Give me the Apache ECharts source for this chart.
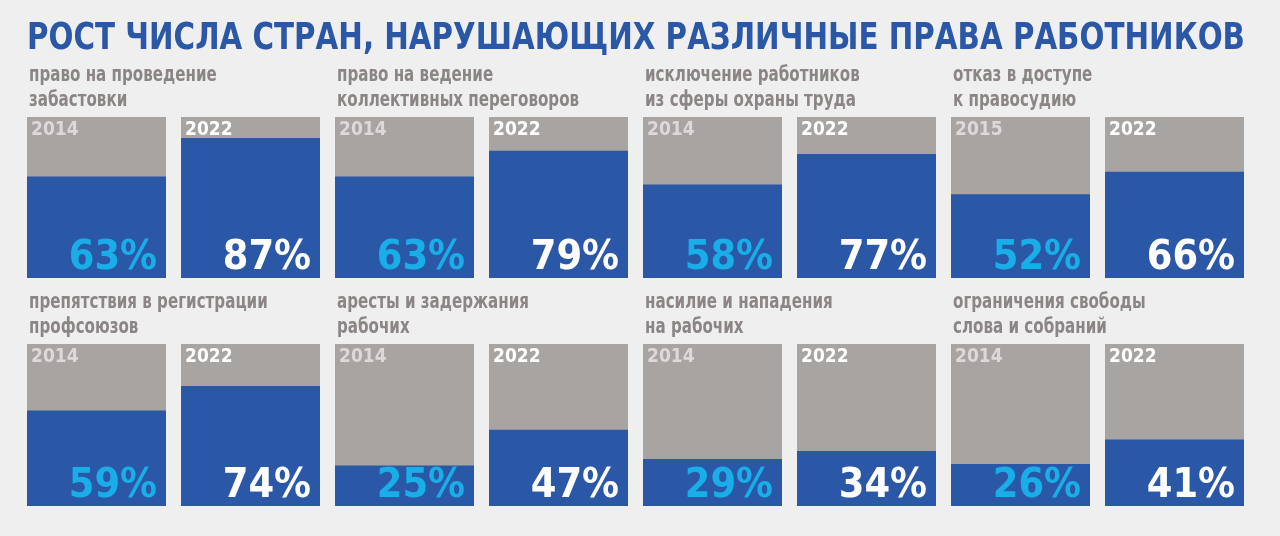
<!DOCTYPE html>
<html>
<head>
<meta charset="utf-8">
<script src="https://cdn.jsdelivr.net/npm/echarts@6/dist/echarts.min.js"></script>
<style>
  html, body { margin: 0; padding: 0; background: #efefef; }
  #main { width: 1280px; height: 536px; }
</style>
</head>
<body>
<div id="main"></div>
<script>
// данные
var titleText = 'РОСТ ЧИСЛА СТРАН, НАРУШАЮЩИХ РАЗЛИЧНЫЕ ПРАВА РАБОТНИКОВ';
var topicsRow1 = [
  'право на проведение\nзабастовки',
  'право на ведение\nколлективных переговоров',
  'исключение работников\nиз сферы охраны труда',
  'отказ в доступе\nк правосудию'
];
var topicsRow2 = [
  'препятствия в регистрации\nпрофсоюзов',
  'аресты и задержания\nрабочих',
  'насилие и нападения\nна рабочих',
  'ограничения свободы\nслова и собраний'
];
var yearsRow1 = ['2014', '2022', '2014', '2022', '2014', '2022', '2015', '2022'];
var yearsRow2 = ['2014', '2022', '2014', '2022', '2014', '2022', '2014', '2022'];
var valuesRow1 = [63, 87, 63, 79, 58, 77, 52, 66];
var valuesRow2 = [59, 74, 25, 47, 29, 34, 26, 41];
var scaleMax = 100;

var FAMILY = '"DejaVu Sans Condensed", "DejaVu Sans", sans-serif';
var BLUE = '#2a58a7';
var GREY = '#a8a4a2';
var CYAN = '#1aaee9';

// ширина текста, чтобы сжать заголовок как в узком шрифте
function textWidth(str, font) {
  var ctx = document.createElement('canvas').getContext('2d');
  ctx.font = font;
  return ctx.measureText(str).width;
}

var myChart = echarts.init(document.getElementById('main'));

function rowSeries(idx, years, values) {
  return [
    {
      type: 'bar',
      xAxisIndex: idx,
      yAxisIndex: idx,
      barWidth: 139,
      barGap: '-100%',
      silent: true,
      itemStyle: { color: GREY },
      data: years.map(function (y, i) {
        return {
          value: scaleMax,
          label: { color: i % 2 === 0 ? '#dcd9d8' : '#ffffff' }
        };
      }),
      label: {
        show: true,
        position: 'insideTopLeft',
        distance: 4,
        fontFamily: FAMILY,
        fontWeight: 'bold',
        fontSize: 19,
        formatter: function (p) { return years[p.dataIndex]; }
      }
    },
    {
      type: 'bar',
      xAxisIndex: idx,
      yAxisIndex: idx,
      barWidth: 139,
      barGap: '-100%',
      silent: true,
      itemStyle: { color: BLUE },
      data: values.map(function (v, i) {
        return {
          value: v,
          label: { color: i % 2 === 0 ? CYAN : '#ffffff' }
        };
      }),
      label: {
        show: true,
        position: 'insideBottomRight',
        distance: 9,
        offset: [0, 10],
        fontFamily: FAMILY,
        fontWeight: 'bold',
        fontSize: 41,
        formatter: '{c}%'
      }
    }
  ];
}

var titleFont = 'bold 37px ' + FAMILY;
var titleScale = 1218 / textWidth(titleText, titleFont);

var graphics = [{
  type: 'text',
  x: 27,
  y: 21,
  scaleX: titleScale,
  silent: true,
  style: {
    text: titleText,
    font: titleFont,
    fill: BLUE,
    verticalAlign: 'top'
  }
}];

topicsRow1.concat(topicsRow2).forEach(function (t, i) {
  graphics.push({
    type: 'text',
    x: 29 + (i % 4) * 308,
    y: i < 4 ? 63 : 290,
    scaleX: 0.8,
    silent: true,
    style: {
      text: t,
      font: 'bold 21px ' + FAMILY,
      lineHeight: 25,
      fill: '#8b8685',
      verticalAlign: 'top'
    }
  });
});

var option = {
  backgroundColor: '#efefef',
  animation: false,
  graphic: graphics,
  grid: [
    { left: 19.5, width: 1232, top: 117, height: 161 },
    { left: 19.5, width: 1232, top: 344, height: 162 }
  ],
  xAxis: [0, 1].map(function (i) {
    return {
      type: 'category',
      gridIndex: i,
      data: i === 0 ? yearsRow1 : yearsRow2,
      show: false
    };
  }),
  yAxis: [0, 1].map(function (i) {
    return { type: 'value', gridIndex: i, min: 0, max: scaleMax, show: false };
  }),
  series: rowSeries(0, yearsRow1, valuesRow1).concat(rowSeries(1, yearsRow2, valuesRow2))
};

myChart.setOption(option);
</script>
</body>
</html>
